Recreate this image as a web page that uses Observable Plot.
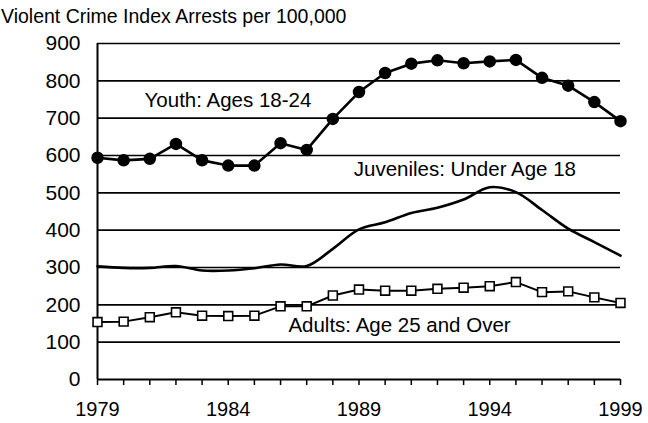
<!DOCTYPE html>
<html>
<head>
<meta charset="utf-8">
<script src="https://cdn.jsdelivr.net/npm/d3@7"></script>
<script src="https://cdn.jsdelivr.net/npm/@observablehq/plot@0.6"></script>
<style>
  body { margin: 0; background: #fff; font-family: "Liberation Sans", Arial, sans-serif; }
  #title { height: 32px; box-sizing: border-box; padding: 4px 0 0 1px; font-size: 19.5px; line-height: 24px; color: #000; white-space: nowrap; }
</style>
</head>
<body>
<div id="title">Violent Crime Index Arrests per 100,000</div>
<div id="chart"></div>
<script>
const years = d3.range(1979, 2000);
const youth = [594, 587, 591, 631, 587, 573, 573, 633, 615, 698, 770, 821, 846, 855, 847, 852, 856, 808, 787, 743, 692];
const juveniles = [303, 299, 299, 304, 292, 292, 298, 308, 304, 350, 402, 421, 446, 460, 482, 515, 502, 454, 404, 368, 332];
const adults = [154, 155, 167, 180, 171, 170, 171, 196, 196, 225, 241, 238, 238, 243, 246, 250, 261, 234, 236, 220, 205];
const yTicks = [0, 100, 200, 300, 400, 500, 600, 700, 800, 900];
const xLabelYears = [1979, 1984, 1989, 1994, 1999];
const labelText = ["Youth: Ages 18-24", "Juveniles: Under Age 18", "Adults: Age 25 and Over"];
const labelYear = [1980.8, 1988.8, 1986.3];
const labelValue = [747, 564, 146];

const rows = (vals) => years.map((yr, i) => ({year: yr, value: vals[i]}));
const labels = labelText.map((t, i) => ({text: t, year: labelYear[i], value: labelValue[i]}));

const chart = Plot.plot({
  width: 648,
  height: 391,
  marginTop: 11,
  marginBottom: 44,
  marginLeft: 97,
  marginRight: 28,
  style: {fontFamily: "'Liberation Sans', Arial, sans-serif", color: "#000", background: "#fff"},
  x: {domain: [1979, 1999]},
  y: {domain: [0, 900]},
  marks: [
    Plot.ruleY(yTicks.filter(d => d > 0), {stroke: "#000", strokeWidth: 1.6}),
    Plot.ruleY([0], {stroke: "#000", strokeWidth: 2}),
    Plot.ruleX([1979], {stroke: "#000", strokeWidth: 2}),
    Plot.axisX(years, {tickSize: 6, tickFormat: () => "", stroke: "#000", strokeWidth: 1.5, label: null}),
    Plot.axisX(xLabelYears, {tickSize: 0, tickPadding: 22, tickFormat: d => String(d), fontSize: 20, label: null}),
    Plot.axisY(yTicks, {tickSize: 0, tickPadding: 17, fontSize: 21, label: null}),
    Plot.line(rows(juveniles), {x: "year", y: "value", curve: "catmull-rom", stroke: "#000", strokeWidth: 2.6}),
    Plot.line(rows(youth), {x: "year", y: "value", stroke: "#000", strokeWidth: 2.6}),
    Plot.dot(rows(youth), {x: "year", y: "value", r: 5.5, fill: "#000", stroke: "#000"}),
    Plot.line(rows(adults), {x: "year", y: "value", stroke: "#000", strokeWidth: 2}),
    Plot.dot(rows(adults), {x: "year", y: "value", symbol: "square", r: 5, fill: "#fff", stroke: "#000", strokeWidth: 1.6}),
    Plot.text(labels, {x: "year", y: "value", text: "text", textAnchor: "start", fontSize: 20.5, fill: "#000"})
  ]
});
document.getElementById("chart").appendChild(chart);
</script>
</body>
</html>
